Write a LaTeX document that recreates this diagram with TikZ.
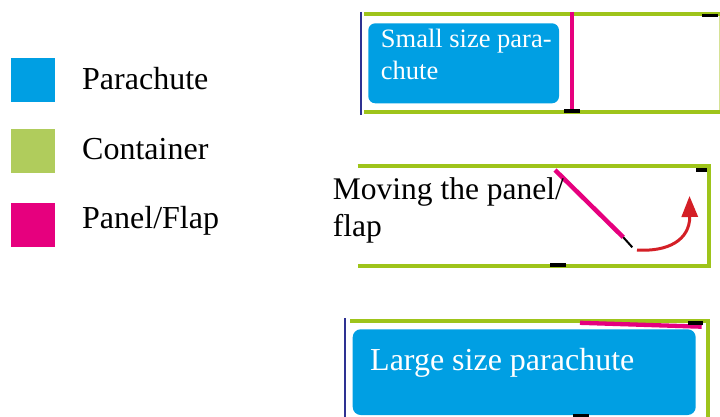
\documentclass[tikz,border=0pt]{standalone}
\usepackage{fontspec}
\setmainfont{Liberation Serif}
\usetikzlibrary{arrows.meta}
\definecolor{pblue}{RGB}{0,159,227}
\definecolor{lgreen}{RGB}{176,204,92}
\definecolor{cgreen}{RGB}{158,196,26}
\definecolor{palegreen}{RGB}{214,226,150}
\definecolor{pmag}{RGB}{230,0,126}
\definecolor{navy}{RGB}{46,49,146}
\definecolor{arrowred}{RGB}{212,31,38}
\tikzset{
  legtext/.style={anchor=base west, inner sep=0pt, font=\fontsize{32}{36}\selectfont},
  wall/.style={cgreen, line width=4pt},
  edge/.style={navy, line width=2pt},
  flap/.style={pmag, line width=4.5pt},
  tick/.style={fill=black},
  chute/.style={fill=pblue, rounded corners=7pt},
}
\begin{document}
\begin{tikzpicture}[x=1pt,y=-1pt]
\useasboundingbox[fill=white] (0,0) rectangle (720,417);
% legend
\fill[pblue] (11,58) rectangle (55,102);
\fill[lgreen] (11,129) rectangle (55,173);
\fill[pmag] (11,203) rectangle (55,247);
\node[legtext] (lp) at (82,89.3) {Parachute};
\node[legtext] (lc) at (82,159) {Container};
\node[legtext] (lf) at (82,228.7) {Panel/Flap};
% top panel
\draw[edge] (361,12) -- (361,115);
\draw[wall, line width=3.5pt] (364,14) -- (720,14);
\draw[wall, line width=3.5pt] (364,112) -- (720,112);
\draw[palegreen, line width=1pt] (719,16) -- (719,110);
\fill[chute] (368.3,23.3) rectangle (559,103.3);
\node[anchor=base west, inner sep=0pt, text=white, font=\fontsize{26.5}{32}\selectfont] (s1) at (380.7,47.7) {Small size para-};
\node[anchor=base west, inner sep=0pt, text=white, font=\fontsize{26.5}{32}\selectfont] (s2) at (380.7,80) {chute};
\draw[flap] (572,12) -- (572,110);
\fill[tick] (564,109) rectangle (580,113);
\fill[tick] (702,14.3) rectangle (718,17.3);
% middle panel
\fill[tick] (696,168.3) rectangle (708,171.7);
\draw[wall, line cap=butt] (357.7,166) -- (708.7,166) -- (708.7,265.7) -- (357.7,265.7);
\fill[tick] (550,263.3) rectangle (566,266.7);
\coordinate (f1) at (555,170);
\coordinate (f2) at (623.3,237.3);
\coordinate (f3) at (632.3,247.3);
\draw[flap] (f1) -- (f2);
\draw[black, line width=2pt] (f2) -- (f3);
\coordinate (a1) at (637,250);
\coordinate (a2) at (689.5,196);
\draw[arrowred, line width=3pt, -{Triangle[length=21pt,width=16pt]}] (a1) .. controls (668,252) and (690,240) .. (a2);
\node[anchor=base west, inner sep=0pt, font=\fontsize{31.5}{36}\selectfont] (m1) at (332.7,199.5) {Moving the panel/};
\node[anchor=base west, inner sep=0pt, font=\fontsize{31.5}{36}\selectfont] (m2) at (332.7,236) {flap};
% bottom panel
\draw[edge] (345,318.3) -- (345,417);
\draw[wall] (350,320.5) -- (708,320.5) -- (708,420);
\fill[chute, rounded corners=8pt] (352.7,329.3) rectangle (695.7,415);
\draw[flap, line width=4.3pt] (580,322.8) -- (701.7,326.7);
\fill[tick] (688.3,321) rectangle (703.3,325);
\fill[tick] (572.7,414) rectangle (589,417);
\node[anchor=base west, inner sep=0pt, text=white, font=\fontsize{32}{36}\selectfont] (lg) at (370,370) {Large size parachute};
\end{tikzpicture}
\end{document}
